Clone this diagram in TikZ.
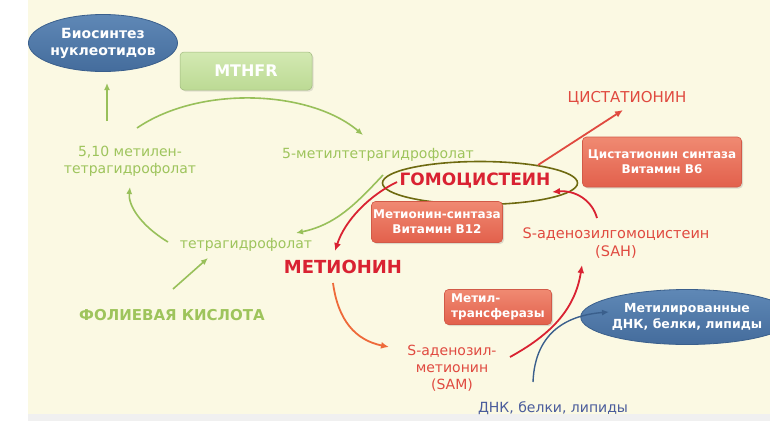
\documentclass[tikz,border=0pt]{standalone}
\usepackage{fontspec}
\setmainfont{DejaVu Sans}
\usetikzlibrary{arrows.meta,shapes.geometric,calc,shadows}
\definecolor{cream}{HTML}{FBF9E3}
\definecolor{gtxt}{HTML}{9EC45C}
\definecolor{garr}{HTML}{98C05A}
\definecolor{rbold}{HTML}{D92232}
\definecolor{rtxt}{HTML}{E04A40}
\definecolor{oarr}{HTML}{EE6A3A}
\definecolor{salmonT}{HTML}{F08A72}
\definecolor{salmonB}{HTML}{E2604C}
\definecolor{salmonD}{HTML}{D25A48}
\definecolor{blueF}{HTML}{5F88B6}
\definecolor{blueB}{HTML}{446C9C}
\definecolor{blueD}{HTML}{3A5F8C}
\definecolor{btxt}{HTML}{4A5C9C}
\definecolor{mthT}{HTML}{D3E9B2}
\definecolor{mthB}{HTML}{BCDA94}
\definecolor{olive}{HTML}{6E6A10}
\newcommand{\fsz}[1]{\fontsize{#1}{#1}\linespread{1.22}\selectfont}
\tikzset{
  gtext/.style={text=gtxt, font=\fsz{14}, align=center, inner sep=1pt},
  rtext/.style={text=rtxt, font=\fsz{14.5}, align=center, inner sep=1pt},
  rboldtext/.style={text=rbold, font=\fsz{#1}\bfseries, inner sep=1pt},
  salbox/.style={rectangle, rounded corners=4pt, draw=salmonD, line width=0.6pt,
     top color=salmonT, bottom color=salmonB, text=white, font=\fsz{12}\bfseries,
     align=center, inner sep=2pt, drop shadow={opacity=0.25, shadow xshift=1.5pt, shadow yshift=-1.5pt}},
  blueell/.style={ellipse, draw=blueD, line width=0.8pt, top color=blueF, bottom color=blueB,
     text=white, align=center, inner sep=0pt},
  garrow/.style={draw=garr, line width=1.6pt, -{Latex[length=7pt,width=6pt]}},
  rarrow/.style={draw=#1, line width=1.8pt, -{Latex[length=8pt,width=7pt]}},
}
\begin{document}
\begin{tikzpicture}[x=1pt,y=-1pt]
\useasboundingbox (0,0) rectangle (770,421);
\fill[white] (0,0) rectangle (770,421);
\fill[cream] (28,0) rectangle (770,414);
\fill[black!6] (28,414) rectangle (770,421);

% nodes
\node[blueell, minimum width=149, minimum height=57, font=\fsz{14}\bfseries] (bio) at (103,43) {Биосинтез\\нуклеотидов};
\node[rectangle, rounded corners=4pt, draw=mthB!85!black, line width=0.5pt, top color=mthT, bottom color=mthB,
      minimum width=132, minimum height=38, text=white, font=\fsz{16}\bfseries,
      drop shadow={opacity=0.2, shadow xshift=1.5pt, shadow yshift=-1.5pt}] (mthfr) at (246,71) {MTHFR};
\node[gtext] (m510) at (130,161) {5,10 метилен-\\тетрагидрофолат};
\node[gtext] (m5) at (378,155) {5-метилтетрагидрофолат};
\node[draw=olive, line width=1.6pt, ellipse, minimum width=195, minimum height=43, inner sep=0pt] (homoell) at (480,183) {};
\node[rboldtext=17] (homo) at (475,181) {ГОМОЦИСТЕИН};
\node[text=rtxt, font=\fsz{15}, inner sep=1pt] (cyst) at (627,98) {ЦИСТАТИОНИН};
\node[salbox, minimum width=159, minimum height=50] (cbs) at (662,162) {Цистатионин синтаза\\Витамин В6};
\node[salbox, minimum width=131, minimum height=41, inner sep=1pt] (ms) at (437,222) {Метионин-синтаза\\Витамин В12};
\node[rboldtext=18] (met) at (343,267) {МЕТИОНИН};
\node[gtext] (thf) at (246,245) {тетрагидрофолат};
\node[text=gtxt, font=\fsz{15}\bfseries, inner sep=1pt] (fol) at (172,315) {ФОЛИЕВАЯ КИСЛОТА};
\node[rtext, font=\fsz{14}] (sam) at (452,368) {S-аденозил-\\метионин\\(SAM)};
\node[salbox, minimum width=107, minimum height=35, align=left, font=\fsz{12}\bfseries] (mtr) at (498,307) {Метил-\\трансферазы};
\node[rtext] (sah) at (616,243) {S-аденозилгомоцистеин\\(SAH)};
\node[blueell, minimum width=148, minimum height=55, font=\fsz{12.5}\bfseries] (dnam) at (687,317) {Метилированные\\ДНК, белки, липиды};
\node[text=btxt, font=\fsz{14}, inner sep=1pt] (dna) at (553,408) {ДНК, белки, липиды};

% free-end coordinates
\coordinate (a1s) at (107,121); \coordinate (a1e) at (107,83);
\coordinate (a2s) at (137,128); \coordinate (a2e) at (363,135);
\coordinate (a3s) at (168,242); \coordinate (a3e) at (130,187);
\coordinate (a4s) at (173,289); \coordinate (a4e) at (208,258);
\coordinate (a5s) at (383,175); \coordinate (a5e) at (296,233);
\coordinate (a6s) at (397,182); \coordinate (a6e) at (335,251);
\coordinate (a7s) at (333,283); \coordinate (a7e) at (389,347);
\coordinate (a8s) at (538,165); \coordinate (a8e) at (623,110);
\coordinate (a9s) at (597,218); \coordinate (a9e) at (552,192);
\coordinate (a10s) at (510,357); \coordinate (a10e) at (582,265);
\coordinate (a11s) at (533,382); \coordinate (a11e) at (609,312);

% connectors
\draw[garrow] (a1s) -- (a1e);
\draw[garrow] (a2s) .. controls (200,85) and (310,90) .. (a2e);
\draw[garrow] (a3s) .. controls (140,225) and (128,205) .. (a3e);
\draw[garrow] (a4s) -- (a4e);
\draw[garrow] (a5s) .. controls (355,205) and (335,225) .. (a5e);
\draw[rarrow=rbold] (a6s) .. controls (370,195) and (345,220) .. (a6e);
\draw[rarrow=oarr] (a7s) .. controls (338,320) and (355,340) .. (a7e);
\draw[rarrow=rtxt] (a8s) -- (a8e);
\draw[rarrow=rbold] (a9s) .. controls (592,200) and (575,190) .. (a9e);
\draw[rarrow=rbold] (a10s) .. controls (550,335) and (575,310) .. (a10e);
\draw[draw=blueD, line width=1.4pt, -{Latex[length=7pt,width=6pt]}] (a11s) .. controls (535,330) and (570,315) .. (a11e);
\end{tikzpicture}
\end{document}
